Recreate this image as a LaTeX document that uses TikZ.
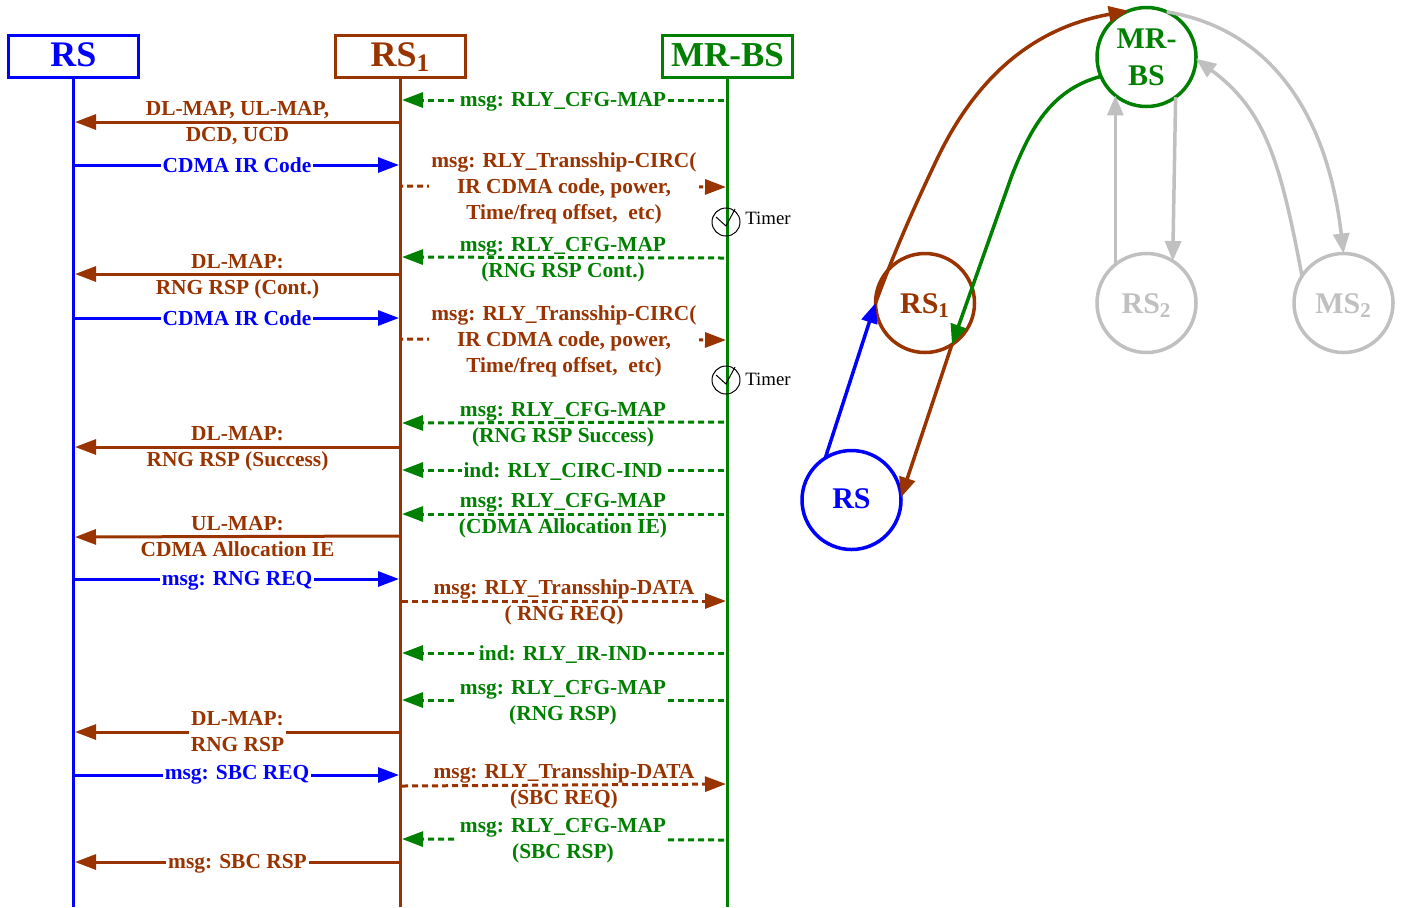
\documentclass[tikz,border=0pt]{standalone}
\usepackage{fontspec}
\setmainfont{Liberation Serif}
\usetikzlibrary{arrows.meta}
\definecolor{brcol}{HTML}{993300}
\definecolor{grcol}{HTML}{008000}
\definecolor{blcol}{HTML}{0000FF}
\definecolor{gycol}{HTML}{C0C0C0}
\begin{document}
\begin{tikzpicture}[
        x=0.5pt,
        y=-0.5pt,
        msgtip/.style={-{Triangle[length=10.5pt,width=7.5pt]}},
        nettip/.style={-{Triangle[length=10pt,width=8pt]}},
        headbox/.style={
            draw,
            font=\bfseries\fontsize{18}{20}\selectfont,
            line width=1.5pt,
            outer sep=0pt,
            text height=9.5pt,
            text depth=0pt,
            minimum width=65pt,
            minimum height=21pt},
        netnode/.style={
            draw,
            circle,
            align=center,
            font=\bfseries\fontsize{15}{18.5}\selectfont,
            line width=1.75pt,
            inner sep=0pt,
            outer sep=0pt,
            minimum size=49.5pt},
        oneline/.style={text height=10pt,text depth=0pt},
        netline/.style={line width=1.75pt,nettip},
        lifeline/.style={line width=1.5pt},
        brmsg/.style={draw=brcol,line width=1.5pt,msgtip},
        blmsg/.style={draw=blcol,line width=1.5pt,msgtip},
        grmsg/.style={draw=grcol,line width=1.5pt,msgtip,dash pattern=on 3pt off 2pt},
        brdash/.style={brmsg,dash pattern=on 3pt off 2pt},
        msgtext/.style={
            font=\bfseries\fontsize{10.7}{13}\selectfont,
            align=center,
            inner xsep=1pt,
            inner ysep=0pt},
        brtext/.style={msgtext,text=brcol},
        bltext/.style={msgtext,text=blcol},
        grtext/.style={msgtext,text=grcol},
        mask/.style={fill=white},
        lower/.style={yshift=-1pt},
        timer/.style={draw,circle,line width=0.5pt,inner sep=0pt,minimum size=14pt},
        timertext/.style={font=\fontsize{9.4}{11}\selectfont,inner sep=0pt}]
    \useasboundingbox (0,0) rectangle (1401,907);

    \node[headbox,draw=blcol,text=blcol] (rshead) at (73.5,56.5) {RS};
    \node[headbox,draw=brcol,text=brcol] (rsonehead) at (400.5,56.5) {RS\textsubscript{1}};
    \node[headbox,draw=grcol,text=grcol,font=\bfseries\fontsize{17.5}{20}\selectfont] (bshead) at (727.5,56.5) {MR-BS};

    \coordinate (rsend) at (73.5,907);
    \coordinate (rsoneend) at (400.5,907);
    \coordinate (bsend) at (727.5,907);
    \draw[lifeline,blcol] (rshead.south) -- (rsend);
    \draw[lifeline,brcol] (rsonehead.south) -- (rsoneend);
    \draw[lifeline,grcol] (bshead.south) -- (bsend);

    \coordinate (a1) at (724,100);    \coordinate (b1) at (402,100);
    \coordinate (a2) at (400,122);    \coordinate (b2) at (75,122);
    \coordinate (a3) at (75,165);     \coordinate (b3) at (399,165);
    \coordinate (a4) at (402,186);    \coordinate (b4) at (726,187);
    \coordinate (a5) at (724,258);    \coordinate (b5) at (402,257);
    \coordinate (a6) at (400,274);    \coordinate (b6) at (75,274);
    \coordinate (a7) at (75,318);     \coordinate (b7) at (399,318);
    \coordinate (a8) at (402,339);    \coordinate (b8) at (726,340);
    \coordinate (a9) at (724,422);    \coordinate (b9) at (402,423);
    \coordinate (a10) at (400,447);   \coordinate (b10) at (75,447);
    \coordinate (a11) at (724,470);   \coordinate (b11) at (402,470);
    \coordinate (a12) at (724,514);   \coordinate (b12) at (402,514);
    \coordinate (a13) at (400,536);   \coordinate (b13) at (75,537);
    \coordinate (a14) at (75,579);    \coordinate (b14) at (399,579);
    \coordinate (a15) at (402,601);   \coordinate (b15) at (726,601);
    \coordinate (a16) at (724,653);   \coordinate (b16) at (402,653);
    \coordinate (a17) at (724,700);   \coordinate (b17) at (402,700);
    \coordinate (a18) at (400,732);   \coordinate (b18) at (75,732);
    \coordinate (a19) at (75,775);    \coordinate (b19) at (399,775);
    \coordinate (a20) at (402,786);   \coordinate (b20) at (726,784);
    \coordinate (a21) at (724,840);   \coordinate (b21) at (402,839);
    \coordinate (a22) at (400,862);   \coordinate (b22) at (75,862);

    \draw[grmsg] (a1) -- node[grtext,mask,lower] (t1) {msg: RLY\_CFG-MAP} (b1);
    \draw[brmsg] (a2) -- node[brtext,yshift=-0.5pt] (t2) {DL-MAP, UL-MAP,\\DCD, UCD} (b2);
    \draw[blmsg] (a3) -- node[bltext,mask] (t3) {CDMA IR Code} (b3);
    \draw[brdash,dash phase=2.5pt] (a4) -- node[brtext,mask,lower] (t4) {msg: RLY\_Transship-CIRC(\\IR CDMA code, power,\\Time/freq offset,~~etc)} (b4);
    \draw[grmsg] (a5) -- node[grtext,lower] (t5) {msg: RLY\_CFG-MAP\\(RNG RSP Cont.)} (b5);
    \draw[brmsg] (a6) -- node[brtext,yshift=-1.5pt] (t6) {DL-MAP:\\RNG RSP (Cont.)} (b6);
    \draw[blmsg] (a7) -- node[bltext,mask] (t7) {CDMA IR Code} (b7);
    \draw[brdash,dash phase=2.5pt] (a8) -- node[brtext,mask,lower] (t8) {msg: RLY\_Transship-CIRC(\\IR CDMA code, power,\\Time/freq offset,~~etc)} (b8);
    \draw[grmsg] (a9) -- node[grtext,lower] (t9) {msg: RLY\_CFG-MAP\\(RNG RSP Success)} (b9);
    \draw[brmsg] (a10) -- node[brtext,lower] (t10) {DL-MAP:\\RNG RSP (Success)} (b10);
    \draw[grmsg] (a11) -- node[grtext,mask,lower] (t11) {ind: RLY\_CIRC-IND} (b11);
    \draw[grmsg] (a12) -- node[grtext,lower] (t12) {msg: RLY\_CFG-MAP\\(CDMA Allocation IE)} (b12);
    \draw[brmsg] (a13) -- node[brtext] (t13) {UL-MAP:\\CDMA Allocation IE} (b13);
    \draw[blmsg] (a14) -- node[bltext,mask,lower] (t14) {msg: RNG REQ} (b14);
    \draw[brdash] (a15) -- node[brtext,yshift=-0.75pt] (t15) {msg: RLY\_Transship-DATA\\( RNG REQ)} (b15);
    \draw[grmsg] (a16) -- node[grtext,mask,lower] (t16) {ind: RLY\_IR-IND} (b16);
    \draw[grmsg] (a17) -- node[grtext,mask,yshift=-1.5pt] (t17) {msg: RLY\_CFG-MAP\\(RNG RSP)} (b17);
    \draw[brmsg] (a18) -- node[brtext,mask] (t18) {DL-MAP:\\RNG RSP} (b18);
    \draw[blmsg] (a19) -- node[bltext,mask] (t19) {msg: SBC REQ} (b19);
    \draw[brdash] (a20) -- node[brtext,yshift=-0.5pt] (t20) {msg: RLY\_Transship-DATA\\(SBC REQ)} (b20);
    \draw[grmsg] (a21) -- node[grtext,mask,yshift=-0.75pt] (t21) {msg: RLY\_CFG-MAP\\(SBC RSP)} (b21);
    \draw[brmsg] (a22) -- node[brtext,mask,lower] (t22) {msg: SBC RSP} (b22);

    \node[timer] (clock1) at (726,222) {};
    \node[timer] (clock2) at (726,380) {};
    \node[timertext] (timer1) at (768,218) {Timer};
    \node[timertext] (timer2) at (768,379) {Timer};
    \draw[line width=0.5pt] (clock1) ++(-10,-5) -- ++(10,9) -- ++(9,-17);
    \draw[line width=0.5pt] (clock2) ++(-10,-5) -- ++(10,9) -- ++(9,-17);

    \node[netnode,oneline,text height=8pt,draw=blcol,text=blcol] (rs) at (851.5,500) {RS};
    \node[netnode,oneline,draw=brcol,text=brcol] (rsone) at (925,303) {RS\textsubscript{1}};
    \node[netnode,draw=grcol,text=grcol] (bs) at (1146.5,57) {MR-\\BS};
    \node[netnode,oneline,draw=gycol,text=gycol] (rstwo) at (1146.5,303) {RS\textsubscript{2}};
    \node[netnode,oneline,draw=gycol,text=gycol] (mstwo) at (1343.5,303) {MS\textsubscript{2}};

    \coordinate (bend1) at (938,157);
    \coordinate (bend2) at (1012,175);

    \draw[netline,blcol] (rs.122) -- (rsone.west);
    \draw[netline,brcol] (rsone.west) .. controls (895,250) and (915,205) .. (bend1)
        .. controls (985,60) and (1050,25) .. (bs.111);
    \draw[netline,brcol] (rsone.-57) -- (rs.3);
    \draw[netline,grcol] (bs.203) .. controls (1050,90) and (1030,130) .. (bend2) -- (rsone.-57);
    \draw[netline,gycol] (rstwo.129) -- (bs.231);
    \draw[netline,gycol] (bs.-54) -- (rstwo.58);
    \draw[netline,gycol] (bs.66) .. controls (1275,30) and (1328,120) .. (mstwo.north);
    \draw[netline,gycol] (mstwo.147) .. controls (1280,160) and (1265,110) .. (bs.-2);
\end{tikzpicture}
\end{document}
